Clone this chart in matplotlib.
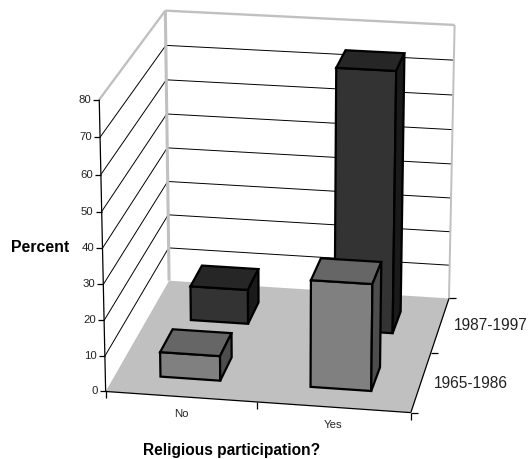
import numpy as np
import matplotlib
matplotlib.use("Agg")
import matplotlib.pyplot as plt
from matplotlib.patches import Polygon

plt.rcParams['font.family'] = ['Liberation Sans', 'DejaVu Sans']

categories = ['No', 'Yes']
periods = ['1965-1986', '1987-1997']
values_1965 = [7, 30]
values_1987 = [10, 75]
z_ticks = [0, 10, 20, 30, 40, 50, 60, 70, 80]

GRAY = '#c0c0c0'
BAR_LO, BAR_HI = 0.3, 0.7
STYLE = {
    0: dict(front='#808080', top='#666666', side='#4d4d4d'),
    1: dict(front='#333333', top='#262626', side='#1a1a1a'),
}

# world corner -> pixel, used to fit the perspective camera
world = [(0, 0, 0), (2, 0, 0), (2, 2, 0), (0, 2, 0), (0, 0, 80), (0, 2, 80), (2, 2, 80)]
pixel = [(105.5, 391.5), (410.7, 412.7), (449, 298.3), (169.3, 280.7),
         (99.5, 99.5), (165, 10.7), (454.7, 25)]


def fit_camera(world, pixel):
    rows = []
    for (x, y, z), (u, v) in zip(world, pixel):
        z = z / 80
        rows.append([x, y, z, 1, 0, 0, 0, 0, -u * x, -u * y, -u * z, -u])
        rows.append([0, 0, 0, 0, x, y, z, 1, -v * x, -v * y, -v * z, -v])
    return np.linalg.svd(np.array(rows, dtype=float))[2][-1].reshape(3, 4)


cam = fit_camera(world, pixel)


def proj(x, y, z):
    p = cam @ np.array([x, y, z / 80, 1.0])
    return p[0] / p[2], p[1] / p[2]


fig = plt.figure(figsize=(5.28, 4.59), dpi=100)
ax = fig.add_axes([0, 0, 1, 1])
ax.set_xlim(0, 528)
ax.set_ylim(459, 0)
ax.axis('off')


def line(a, b, **kw):
    ax.plot([a[0], b[0]], [a[1], b[1]], solid_capstyle='butt', **kw)


def draw_bar(cat, row, value):
    s = STYLE[row]
    x0, x1 = cat + BAR_LO, cat + BAR_HI
    y0, y1 = row + BAR_LO, row + BAR_HI
    faces = [
        ([(x0, y0, 0), (x1, y0, 0), (x1, y0, value), (x0, y0, value)], s['front']),
        ([(x0, y0, value), (x1, y0, value), (x1, y1, value), (x0, y1, value)], s['top']),
        ([(x1, y0, 0), (x1, y1, 0), (x1, y1, value), (x1, y0, value)], s['side']),
    ]
    for corners, color in faces:
        ax.add_patch(Polygon([proj(*c) for c in corners], closed=True, facecolor=color,
                             edgecolor='black', linewidth=1.6, joinstyle='miter', zorder=5))


# floor
ax.add_patch(Polygon([proj(0, 0, 0), proj(2, 0, 0), proj(2, 2, 0), proj(0, 2, 0)],
                     closed=True, facecolor=GRAY, edgecolor='none', zorder=1))

# gridlines on the two walls
for z in z_ticks[1:-1]:
    line(proj(0, 0, z), proj(0, 2, z), color='black', lw=0.7, zorder=2)
    line(proj(0, 2, z), proj(2, 2, z), color='black', lw=0.7, zorder=2)

# wall outline
line(proj(0, 0, 80), proj(0, 2, 80), color=GRAY, lw=1.7, zorder=3)
line(proj(0, 2, 80), proj(2, 2, 80), color=GRAY, lw=1.7, zorder=3)
line(proj(0, 2, 0), proj(0, 2, 80), color=GRAY, lw=2.2, zorder=3)
line(proj(2, 2, 0), proj(2, 2, 80), color=GRAY, lw=1.4, zorder=3)

# axes and ticks
line(proj(0, 0, 0), proj(0, 0, 80), color='black', lw=0.9, zorder=4)
line(proj(0, 0, 0), proj(2, 0, 0), color='black', lw=0.9, zorder=4)
line(proj(2, 0, 0), proj(2, 2, 0), color='black', lw=0.9, zorder=4)
for z in z_ticks:
    u, v = proj(0, 0, z)
    line((u - 6, v), (u, v), color='black', lw=0.9, zorder=4)
    ax.text(u - 8, v, str(z), ha='right', va='center', fontsize=8.2, color='#222222')
for x in range(len(categories) + 1):
    u, v = proj(x, 0, 0)
    line((u, v), (u, v + 7), color='black', lw=0.9, zorder=4)
for y in range(len(periods) + 1):
    u, v = proj(2, y, 0)
    line((u, v), (u + 7, v), color='black', lw=0.9, zorder=4)

# back row first so the front row overlaps it
for cat, val in enumerate(values_1987):
    draw_bar(cat, 1, val)
for cat, val in enumerate(values_1965):
    draw_bar(cat, 0, val)

ax.text(181, 414, categories[0], ha='center', va='center', fontsize=8.2, color='#222222')
ax.text(333, 425, categories[1], ha='center', va='center', fontsize=8.2, color='#222222')
ax.text(434, 383, periods[0], ha='left', va='center', fontsize=11.2, color='#222222')
ax.text(454, 326, periods[1], ha='left', va='center', fontsize=11.2, color='#222222')

ax.text(11, 247, 'Percent', ha='left', va='center', fontsize=11.4, fontweight='bold')
ax.text(232, 451, 'Religious participation?', ha='center', va='center',
        fontsize=11.2, fontweight='bold')

fig.savefig('out.png', dpi=100)
